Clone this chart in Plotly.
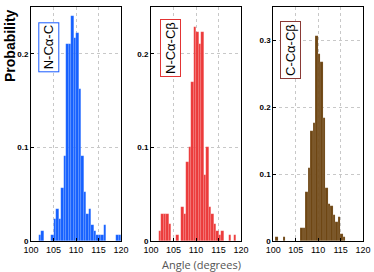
import plotly.graph_objects as go

# Histogram definition: 36 bins over 100..120 degrees
BIN_START = 100.0
N_BINS = 36
BIN_WIDTH = 20.0 / N_BINS

# Probability per bin (bin index 0..35)
ncac = [0, 0, 0, 0.006, 0.011, 0, 0, 0, 0.006, 0.023, 0.034, 0.023, 0.057, 0.091,
        0.211, 0.211, 0.240, 0.217, 0.222, 0.162, 0.091, 0.052, 0.029, 0.034,
        0.017, 0.011, 0.006, 0.006, 0.006, 0.017, 0, 0, 0, 0, 0.006, 0.006]
ncacb = [0, 0, 0, 0.011, 0.029, 0.029, 0.029, 0.018, 0, 0, 0.006, 0, 0.036, 0.029,
         0.084, 0.100, 0.170, 0.229, 0.223, 0.210, 0.223, 0.071, 0.100, 0.036,
         0.029, 0.018, 0.011, 0.006, 0.011, 0, 0, 0.006, 0, 0.006, 0, 0]
ccacb = [0, 0.0065, 0, 0, 0.0065, 0, 0, 0, 0, 0, 0, 0.020, 0.020, 0.073,
         0.109, 0.164, 0.177, 0.306, 0.279, 0.267, 0.184, 0.080, 0.055, 0.052,
         0.039, 0.028, 0.036, 0.011, 0.006, 0, 0, 0, 0, 0, 0, 0]

labels = ["N-Cα-C", "N-Cα-Cβ", "C-Cα-Cβ"]
series = [ncac, ncacb, ccacb]
bar_colors = ["#1560FF", "#EC3A3A", "#6E4613"]
box_colors = ["#1A5CFF", "#E23434", "#8A3A36"]
y_max = [0.25, 0.25, 0.35]
y_ticks = [[0, 0.1, 0.2], [0, 0.1, 0.2], [0, 0.1, 0.2, 0.3]]
x_ticks = [100, 105, 110, 115, 120]

W, H = 374, 272
x_px = [(31, 121), (151, 241), (273.3, 363)]
y_px = (7, 241)
box_px = [(48.3, 47), (170, 48), (290, 50)]

centers = [BIN_START + BIN_WIDTH * (i + 0.5) for i in range(N_BINS)]

fig = go.Figure()
for k in range(3):
    ax = "" if k == 0 else str(k + 1)
    fig.add_trace(go.Bar(
        x=centers, y=series[k], width=BIN_WIDTH,
        marker=dict(color=bar_colors[k], line=dict(color="rgba(255,255,255,0.22)", width=0.5)),
        xaxis="x" + ax, yaxis="y" + ax, showlegend=False, hoverinfo="skip",
    ))
    common = dict(showline=True, linecolor="black", linewidth=1, mirror=True,
                  ticks="inside", ticklen=3, tickcolor="black",
                  showgrid=True, gridcolor="#C8C8C8", griddash="dot", gridwidth=0.5,
                  zeroline=False, automargin=False)
    fig.layout["xaxis" + ax] = dict(
        common, domain=[x_px[k][0] / W, x_px[k][1] / W], range=[100, 120],
        tickvals=x_ticks, anchor="y" + ax, ticklabelstandoff=0,
        tickfont=dict(family="Liberation Sans", size=9, color="black"))
    fig.layout["yaxis" + ax] = dict(
        common, domain=[1 - y_px[1] / H, 1 - y_px[0] / H], range=[0, y_max[k]],
        tickvals=y_ticks[k], ticktext=[str(v) for v in y_ticks[k]], anchor="x" + ax,
        tickfont=dict(family="Liberation Sans", size=8, color="black", weight="bold"))
    fig.add_annotation(
        x=box_px[k][0] / W, y=1 - box_px[k][1] / H, xref="paper", yref="paper",
        xanchor="center", yanchor="middle",
        text=labels[k], textangle=-90, showarrow=False,
        font=dict(family="Liberation Sans", size=13, color="black"),
        bordercolor=box_colors[k], borderwidth=1, borderpad=2, bgcolor="white")

fig.add_annotation(x=10 / W, y=1 - 46 / H, xref="paper", yref="paper",
                   xanchor="center", yanchor="middle",
                   text="<b>Probability</b>", textangle=-90, showarrow=False,
                   font=dict(family="Liberation Sans", size=14, color="black"))
fig.add_annotation(x=201 / W, y=1 - 264 / H, xref="paper", yref="paper",
                   xanchor="center", yanchor="middle",
                   text="Angle (degrees)", showarrow=False,
                   font=dict(family="Open Sans", size=11, color="#555555"))

fig.update_layout(width=W, height=H, margin=dict(l=0, r=0, t=0, b=0),
                  paper_bgcolor="white", plot_bgcolor="white", bargap=0)
fig.write_html("out.html", config={"displayModeBar": False},
               post_script="document.body.style.margin='0';document.body.style.overflow='hidden';")
